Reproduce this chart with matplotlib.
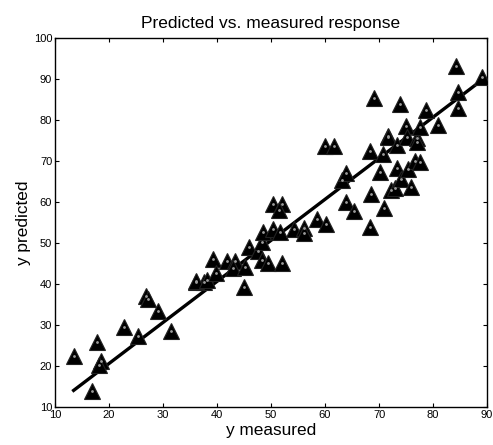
import matplotlib
matplotlib.use("Agg")
import matplotlib.pyplot as plt
import numpy as np

plt.rcParams['font.family'] = ['Liberation Sans', 'DejaVu Sans']

# measured vs predicted values
y_measured = [13.6, 17.8, 18.6, 18.2, 16.8, 22.8, 25.4, 26.9, 27.3, 29.0,
              31.5, 36.1, 37.5, 36.1, 38.1, 39.3, 39.8, 41.8, 43.3, 42.9,
              45.2, 44.9, 45.9, 47.5, 48.3, 48.3, 48.5, 49.5, 50.3, 50.3,
              51.7, 52.0, 52.0, 51.5, 54.2, 56.1, 56.1, 58.5, 60.2, 60.0,
              61.7, 63.1, 63.8, 63.9, 65.4, 68.3, 68.5, 68.3, 69.1, 70.2,
              70.7, 71.0, 71.6, 71.6, 72.2, 73.0, 73.4, 73.4, 73.9, 74.1,
              74.9, 75.2, 75.3, 75.9, 76.7, 77.0, 77.0, 77.5, 77.6, 78.7,
              80.9, 84.3, 84.6, 84.7, 89.1]
y_predicted = [22.5, 25.8, 21.2, 20.2, 13.9, 29.6, 27.3, 37.0, 36.3, 33.4,
               28.5, 40.6, 40.6, 40.8, 41.0, 46.1, 42.8, 45.6, 45.7, 44.0,
               44.2, 39.3, 49.1, 48.0, 50.3, 45.9, 52.8, 45.0, 53.5, 59.5,
               52.6, 59.5, 45.0, 58.0, 53.3, 53.7, 52.5, 55.8, 54.6, 73.7,
               73.7, 65.4, 67.0, 60.1, 57.9, 72.5, 61.9, 53.8, 85.4, 67.2,
               71.7, 58.5, 76.1, 75.9, 62.9, 63.3, 68.2, 73.9, 83.8, 65.5,
               78.5, 75.9, 68.0, 63.7, 70.1, 75.5, 74.7, 69.8, 78.2, 82.4,
               78.9, 93.2, 86.8, 82.9, 90.6]

# fitted line end points
fit_x = [13.2, 89.8]
fit_y = [13.8, 90.5]

x_ticks = [10, 20, 30, 40, 50, 60, 70, 80, 90]
y_ticks = [10, 20, 30, 40, 50, 60, 70, 80, 90, 100]

fig = plt.figure(figsize=(4.93, 4.45), dpi=100)
ax = fig.add_axes([0.1116, 0.0854, 0.8764, 0.8292])

ax.plot(fit_x, fit_y, color='black', linewidth=2.4, solid_capstyle='butt', zorder=2)
ax.plot(y_measured, y_predicted, linestyle='none', marker='^', markersize=11,
        markerfacecolor='black', markeredgecolor='#222222', markeredgewidth=0.8, zorder=3)
ax.plot(y_measured, y_predicted, linestyle='none', marker='.', markersize=2,
        color='#9a9a9a', zorder=4)

ax.set_xlim(10, 90)
ax.set_ylim(10, 100)
ax.set_xticks(x_ticks)
ax.set_yticks(y_ticks)
ax.tick_params(direction='in', length=3, width=0.8, top=True, right=True,
               labelsize=8, pad=2)
for s in ax.spines.values():
    s.set_linewidth(1.0)

ax.set_title('Predicted vs. measured response', fontsize=12.5, pad=7)
ax.set_xlabel('y measured', fontsize=12.4, labelpad=2)
ax.set_ylabel('y predicted', fontsize=12.4, labelpad=2)

fig.savefig('out.png', dpi=100)
